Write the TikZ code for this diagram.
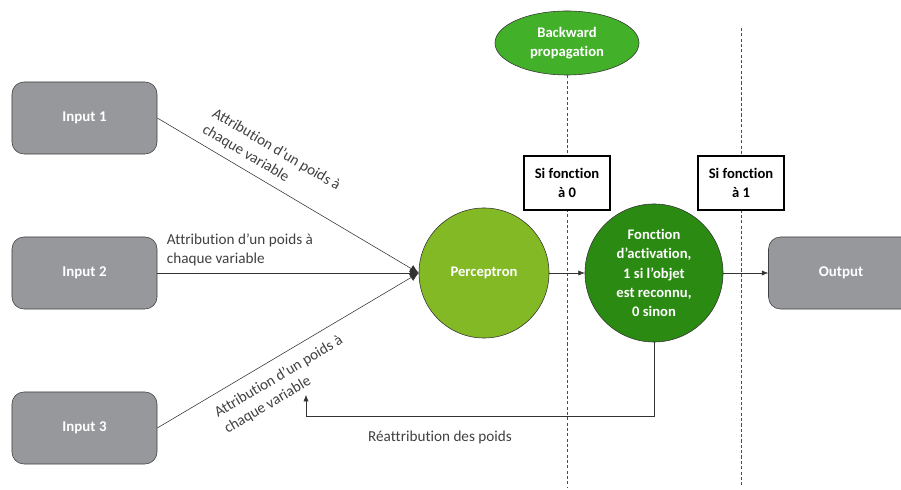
\documentclass[tikz,border=0pt]{standalone}
\usepackage{fontspec}
\setmainfont{Carlito}[Ligatures=NoCommon]
\usetikzlibrary{arrows.meta}
\usetikzlibrary{shapes.geometric}
\definecolor{box-gray}{HTML}{96989B}
\definecolor{light-green}{HTML}{84B926}
\definecolor{dark-green}{HTML}{2B8A12}
\definecolor{mid-green}{HTML}{43B02A}
\definecolor{label-gray}{HTML}{404040}
\tikzstyle{inputbox}=[draw=black!75,fill=box-gray,rounded corners=3mm,minimum width=3.625cm,minimum height=1.8cm,text=white,font=\fontsize{10.6}{13.7}\selectfont\bfseries]
\tikzstyle{neuron}=[circle,draw=black!80,text=white,align=center,inner sep=0pt,font=\fontsize{10.4}{13.7}\selectfont\bfseries]
\tikzstyle{condbox}=[draw=black,fill=white,thick,minimum width=2.15cm,minimum height=1.35cm,align=center,font=\fontsize{10.4}{13.6}\selectfont\bfseries]
\tikzstyle{flow}=[black!80,-{Latex[length=1.6mm,width=1.3mm]}]
\tikzstyle{dashline}=[black!70,dash pattern=on 2.2pt off 1.6pt,line width=0.7pt]
\tikzstyle{weightlabel}=[align=left,text=label-gray,font=\fontsize{10.8}{13.5}\selectfont]

\begin{document}
\begin{tikzpicture}[x=0.025cm,y=-0.025cm]
\useasboundingbox (0,0) rectangle (901,490);
% inputs and output
\node[inputbox] (in1) at (84.5,118) {Input 1};
\node[inputbox] (in2) at (84.5,273) {Input 2};
\node[inputbox] (in3) at (84.5,428) {Input 3};
\node[inputbox] (out) at (841,273) {Output};
% neurons
\node[neuron,fill=light-green,minimum size=3.25cm] (perc) at (484,273) {Perceptron};
\node[neuron,fill=dark-green,minimum size=3.45cm] (act) at (654,273) {Fonction\\d'activation,\\1 si l'objet\\est reconnu,\\0 sinon};
\node[ellipse,draw=black!80,fill=mid-green,minimum width=3.6cm,minimum height=1.6cm,text=white,align=center,font=\fontsize{10.4}{13.8}\selectfont\bfseries] (back) at (567,43) {Backward\\propagation};
% dashed separators
\coordinate (top1) at (741,28);
\coordinate (bot0) at (567,487);
\coordinate (bot1) at (741,487);
\draw[dashline] (back.south) -- (bot0);
\draw[dashline] (top1) -- (bot1);
\node[condbox] (si0) at (567,183) {Si fonction\\à 0};
\node[condbox] (si1) at (741,183) {Si fonction\\à 1};
% weighted inputs
\coordinate (conv) at (perc.west);
\draw[flow,-{Latex[length=2.2mm,width=2mm]}] (in1.east) -- (conv) node[weightlabel,pos=0.39,sloped,above=2pt] {Attribution d'un poids à\\chaque variable};
\draw[flow,-{Latex[length=2.2mm,width=2mm]}] (in2.east) -- (conv);
\draw[flow,-{Latex[length=2.2mm,width=2mm]}] (in3.east) -- (conv) node[weightlabel,pos=0.43,sloped,below=4.5pt] {Attribution d'un poids à\\chaque variable};
\node[weightlabel,anchor=south west] (lab2) at (162,271) {Attribution d'un poids à\\chaque variable};
% forward
\draw[flow] (perc.east) -- (act.west);
\draw[flow] (act.east) -- (out.west);
% feedback
\coordinate (fb) at (306,395);
\draw[flow] (act.south) -- ++(0,74) -| (fb);
\node[text=label-gray,font=\fontsize{10.8}{13}\selectfont] (relab) at (440,437) {Réattribution des poids};
\end{tikzpicture}
\end{document}
